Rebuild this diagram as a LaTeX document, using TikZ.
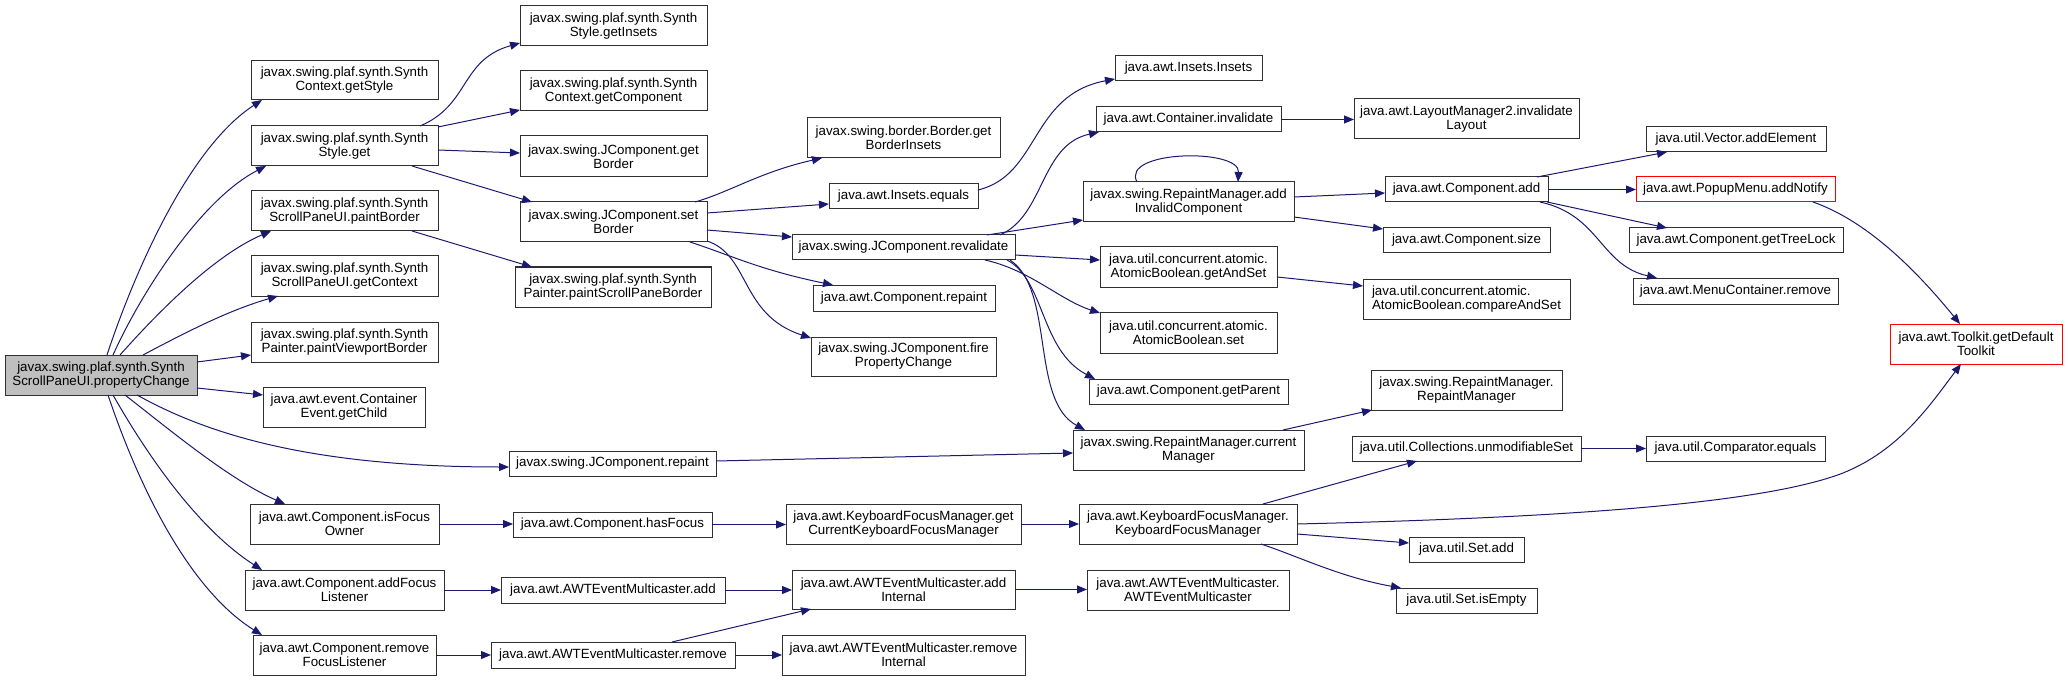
\documentclass[tikz,border=0pt]{standalone}
\usepackage{fontspec}
\setmainfont{Liberation Sans}
\usetikzlibrary{arrows.meta,calc}
\definecolor{edgec}{HTML}{191970}
\definecolor{boxc}{HTML}{303030}
\definecolor{rootfill}{HTML}{BFBFBF}
\newcommand{\bx}[7][]{%
  \pgfmathsetmacro\bxw{(#5-#3)*0.75}%
  \pgfmathsetmacro\bxh{(#6-#4)*0.75}%
  \pgfmathsetmacro\bxx{(#3+#5)/2}%
  \pgfmathsetmacro\bxy{(#4+#6)/2}%
  \node[nbox,#1,minimum width=\bxw pt,minimum height=\bxh pt] (#2) at (\bxx,\bxy) {#7};}
\tikzset{
  nbox/.style={draw=boxc, line width=0.75pt, fill=white, inner sep=0pt, outer sep=0pt,
    align=center, font=\fontsize{10}{10.5}\selectfont, text=black, anchor=center},
  redbox/.style={draw=red},
  rootbox/.style={fill=rootfill},
  conn/.style={draw=edgec, line width=0.75pt, -{Triangle[length=7.5pt,width=6pt]}}
}
\begin{document}
\begin{tikzpicture}[x=0.75pt,y=-0.75pt]
\useasboundingbox (0,0) rectangle (2068,681);
% column 0/1
\bx[rootbox]{root}{5}{355}{197}{395}{javax.swing.plaf.synth.Synth\\ScrollPaneUI.propertyChange}
\bx{getStyle}{251}{61}{438}{100}{javax.swing.plaf.synth.Synth\\Context.getStyle}
\bx{styleGet}{251}{126}{438}{166}{javax.swing.plaf.synth.Synth\\Style.get}
\bx{paintBorder}{251}{191}{438}{231}{javax.swing.plaf.synth.Synth\\ScrollPaneUI.paintBorder}
\bx{getContext}{251}{256}{438}{296}{javax.swing.plaf.synth.Synth\\ScrollPaneUI.getContext}
\bx{paintVP}{251}{322}{438}{362}{javax.swing.plaf.synth.Synth\\Painter.paintViewportBorder}
\bx{getChild}{263}{387}{425}{427}{java.awt.event.Container\\Event.getChild}
\bx{isFocusOwner}{250}{504}{439}{544}{java.awt.Component.isFocus\\Owner}
\bx{addFocusL}{245}{570}{444}{610}{java.awt.Component.addFocus\\Listener}
\bx{removeFocusL}{253}{635}{436}{675}{java.awt.Component.remove\\FocusListener}
% column 2
\bx{getInsets}{520}{6}{707}{46}{javax.swing.plaf.synth.Synth\\Style.getInsets}
\bx{getComponent}{520}{71}{707}{111}{javax.swing.plaf.synth.Synth\\Context.getComponent}
\bx{getBorder}{520}{136}{707}{177}{javax.swing.JComponent.get\\Border}
\bx{setBorder}{520}{202}{707}{242}{javax.swing.JComponent.set\\Border}
\bx{paintSPB}{515}{267}{711}{307}{javax.swing.plaf.synth.Synth\\Painter.paintScrollPaneBorder}
\bx{jrepaint}{509}{451}{716}{476}{javax.swing.JComponent.repaint}
\bx{hasFocus}{513}{512}{712}{537}{java.awt.Component.hasFocus}
\bx{awtAdd}{501}{577}{725}{603}{java.awt.AWTEventMulticaster.add}
\bx{awtRemove}{491}{642}{735}{668}{java.awt.AWTEventMulticaster.remove}
% column 3
\bx{borderInsets}{807}{118}{1000}{158}{javax.swing.border.Border.get\\BorderInsets}
\bx{insetsEquals}{829}{184}{978}{209}{java.awt.Insets.equals}
\bx{revalidate}{792}{235}{1015}{260}{javax.swing.JComponent.revalidate}
\bx{compRepaint}{813}{285}{995}{311}{java.awt.Component.repaint}
\bx{firePC}{811}{337}{996}{376}{javax.swing.JComponent.fire\\PropertyChange}
\bx{getCurKFM}{786}{504}{1021}{544}{java.awt.KeyboardFocusManager.get\\CurrentKeyboardFocusManager}
\bx{addInternal}{792}{570}{1015}{609}{java.awt.AWTEventMulticaster.add\\Internal}
\bx{removeInternal}{782}{635}{1025}{675}{java.awt.AWTEventMulticaster.remove\\Internal}
% column 4
\bx{insetsInsets}{1115}{56}{1262}{81}{java.awt.Insets.Insets}
\bx{contInvalidate}{1096}{107}{1281}{132}{java.awt.Container.invalidate}
\bx{addInvalid}{1083}{182}{1294}{222}{javax.swing.RepaintManager.add\\InvalidComponent}
\bx{getAndSet}{1100}{247}{1277}{287}{java.util.concurrent.atomic.\\AtomicBoolean.getAndSet}
\bx{abSet}{1100}{312}{1277}{353}{java.util.concurrent.atomic.\\AtomicBoolean.set}
\bx{getParent}{1089}{379}{1288}{404}{java.awt.Component.getParent}
\bx{currentMgr}{1073}{430}{1304}{470}{javax.swing.RepaintManager.current\\Manager}
\bx{kfmKfm}{1079}{504}{1297}{544}{java.awt.KeyboardFocusManager.\\KeyboardFocusManager}
\bx{awtemAwtem}{1087}{570}{1289}{610}{java.awt.AWTEventMulticaster.\\AWTEventMulticaster}
% column 5
\bx{layoutInv}{1354}{99}{1579}{139}{java.awt.LayoutManager2.invalidate\\Layout}
\bx{compAdd}{1385}{177}{1548}{202}{java.awt.Component.add}
\bx{compSize}{1383}{228}{1550}{253}{java.awt.Component.size}
\bx[align=left]{compareAndSet}{1363}{279}{1570}{319}{java.util.concurrent.atomic.\\AtomicBoolean.compareAndSet}
\bx{rmRM}{1371}{370}{1562}{410}{javax.swing.RepaintManager.\\RepaintManager}
\bx{unmodSet}{1352}{436}{1581}{461}{java.util.Collections.unmodifiableSet}
\bx{setAdd}{1409}{537}{1524}{562}{java.util.Set.add}
\bx{setIsEmpty}{1396}{588}{1537}{613}{java.util.Set.isEmpty}
% column 6
\bx{vectorAdd}{1646}{127}{1826}{152}{java.util.Vector.addElement}
\bx[redbox]{popupAdd}{1636}{177}{1835}{202}{java.awt.PopupMenu.addNotify}
\bx{treeLock}{1629}{228}{1843}{253}{java.awt.Component.getTreeLock}
\bx{menuRemove}{1633}{278}{1838}{304}{java.awt.MenuContainer.remove}
\bx{compEquals}{1646}{436}{1825}{461}{java.util.Comparator.equals}
% column 7
\bx[redbox]{toolkit}{1890}{324}{2062}{364}{java.awt.Toolkit.getDefault\\Toolkit}

% edges from root
\draw[conn] ($(root.north west)+(102,0)$) .. controls (130,285) and (185,150) .. ($(getStyle.south west)+(11,0)$);
\draw[conn] ($(root.north west)+(108,0)$) .. controls (140,295) and (200,200) .. ($(styleGet.south west)+(15,0)$);
\draw[conn] ($(root.north west)+(115,0)$) .. controls (160,310) and (215,255) .. ($(paintBorder.south west)+(20,0)$);
\draw[conn] ($(root.north west)+(138,0)$) .. controls (190,330) and (230,310) .. ($(getContext.south west)+(27,0)$);
\draw[conn] ($(root.north east)+(0,7)$) -- ($(paintVP.south west)+(0,-7)$);
\draw[conn] ($(root.north east)+(0,33)$) -- ($(getChild.north west)+(0,8)$);
\draw[conn] ($(root.south west)+(132,0)$) .. controls (200,430) and (300,467) .. ($(jrepaint.south west)+(0,-9)$);
\draw[conn] ($(root.south west)+(120,0)$) .. controls (170,430) and (230,480) .. ($(isFocusOwner.north west)+(35,0)$);
\draw[conn] ($(root.south west)+(108,0)$) .. controls (150,460) and (200,530) .. ($(addFocusL.north west)+(17,0)$);
\draw[conn] ($(root.south west)+(103,0)$) .. controls (140,490) and (190,590) .. ($(removeFocusL.north west)+(9,0)$);
% SynthStyle.get
\draw[conn] ($(styleGet.north west)+(169,0)$) .. controls (470,105) and (460,60) .. ($(getInsets.south west)+(0,-3)$);
\draw[conn] ($(styleGet.north east)+(0,1)$) -- ($(getComponent.south west)+(0,-1)$);
\draw[conn] ($(styleGet.north east)+(0,24)$) -- ($(getBorder.north west)+(0,17)$);
\draw[conn] ($(styleGet.south west)+(161,0)$) -- ($(setBorder.north west)+(12,0)$);
\draw[conn] ($(paintBorder.south west)+(161,0)$) -- ($(paintSPB.north west)+(17,0)$);
% setBorder
\draw[conn] ($(setBorder.north west)+(175,0)$) .. controls (730,192) and (760,172) .. ($(borderInsets.south west)+(15,0)$);
\draw[conn] ($(setBorder.north east)+(0,11)$) -- ($(insetsEquals.north west)+(0,20)$);
\draw[conn] ($(setBorder.north east)+(0,28)$) -- ($(revalidate.north west)+(0,2)$);
\draw[conn] ($(setBorder.south west)+(170,0)$) .. controls (730,255) and (760,270) .. ($(compRepaint.north west)+(20,0)$);
\draw[conn] ($(setBorder.south east)+(0,-1)$) .. controls (750,255) and (740,315) .. ($(firePC.north west)+(0,1)$);
\draw[conn] ($(insetsEquals.north east)+(0,6)$) .. controls (1040,175) and (1030,95) .. ($(insetsInsets.south west)+(0,-2)$);
% revalidate
\draw[conn] ($(revalidate.north west)+(208,0)$) .. controls (1045,215) and (1040,145) .. ($(contInvalidate.south west)+(3,0)$);
\draw[conn] ($(revalidate.north west)+(195,0)$) -- ($(addInvalid.south west)+(0,-2)$);
\draw[conn] ($(revalidate.south east)+(0,-5)$) -- ($(getAndSet.north west)+(0,13)$);
\draw[conn] ($(revalidate.south west)+(193,0)$) .. controls (1030,270) and (1060,300) .. ($(abSet.north west)+(0,1)$);
\draw[conn] ($(revalidate.south west)+(215,0)$) .. controls (1045,280) and (1040,350) .. ($(getParent.north west)+(6,0)$);
\draw[conn] ($(revalidate.south west)+(218,0)$) .. controls (1055,290) and (1030,400) .. ($(currentMgr.north west)+(12,0)$);
\draw[conn] (contInvalidate.east) -- (contInvalidate.east -| layoutInv.west);
% addInvalidComponent
\draw[conn] ($(addInvalid.north west)+(54,0)$) .. controls (1120,150) and (1240,148) .. ($(addInvalid.north west)+(155,0)$);
\draw[conn] ($(addInvalid.north east)+(0,15)$) -- ($(compAdd.north west)+(0,16)$);
\draw[conn] ($(addInvalid.south east)+(0,-5)$) -- ($(compSize.north west)+(0,1)$);
% Component.add
\draw[conn] ($(compAdd.north west)+(152,0)$) -- ($(vectorAdd.south west)+(21,0)$);
\draw[conn] (compAdd.east) -- (compAdd.east -| popupAdd.west);
\draw[conn] ($(compAdd.south east)+(-1,0)$) -- ($(treeLock.north west)+(38,0)$);
\draw[conn] ($(compAdd.south west)+(155,0)$) .. controls (1600,215) and (1600,265) .. ($(menuRemove.north west)+(24,0)$);
\draw[conn] ($(popupAdd.south west)+(177,0)$) .. controls (1870,222) and (1920,275) .. ($(toolkit.north west)+(70,0)$);
\draw[conn] ($(getAndSet.south east)+(0,-10)$) -- ($(compareAndSet.north west)+(0,7)$);
% repaint manager
\draw[conn] ($(jrepaint.north east)+(0,10)$) -- ($(currentMgr.north west)+(0,23)$);
\draw[conn] ($(currentMgr.north west)+(210,0)$) -- ($(rmRM.south west)+(1,0)$);
% focus chain
\draw[conn] (isFocusOwner.east) -- (isFocusOwner.east -| hasFocus.west);
\draw[conn] (hasFocus.east) -- (hasFocus.east -| getCurKFM.west);
\draw[conn] (getCurKFM.east) -- (getCurKFM.east -| kfmKfm.west);
\draw[conn] ($(kfmKfm.north west)+(184,0)$) -- ($(unmodSet.south west)+(65,0)$);
\draw[conn] ($(kfmKfm.north east)+(0,30)$) -- ($(setAdd.north west)+(0,6)$);
\draw[conn] ($(kfmKfm.south west)+(182,0)$) .. controls (1300,557) and (1340,577) .. ($(setIsEmpty.north west)+(5,0)$);
\draw[conn] (kfmKfm.east) .. controls (1550,518) and (1760,505) .. (1843,473) .. controls (1900,450) and (1930,405) .. ($(toolkit.south west)+(71,0)$);
\draw[conn] (unmodSet.east) -- (unmodSet.east -| compEquals.west);
% multicaster chain
\draw[conn] (addFocusL.east) -- (addFocusL.east -| awtAdd.west);
\draw[conn] (awtAdd.east) -- (awtAdd.east -| addInternal.west);
\draw[conn] (addInternal.east) -- (addInternal.east -| awtemAwtem.west);
\draw[conn] (removeFocusL.east) -- (removeFocusL.east -| awtRemove.west);
\draw[conn] ($(awtRemove.north west)+(181,0)$) -- ($(addInternal.south west)+(19,0)$);
\draw[conn] (awtRemove.east) -- (awtRemove.east -| removeInternal.west);
\end{tikzpicture}
\end{document}
